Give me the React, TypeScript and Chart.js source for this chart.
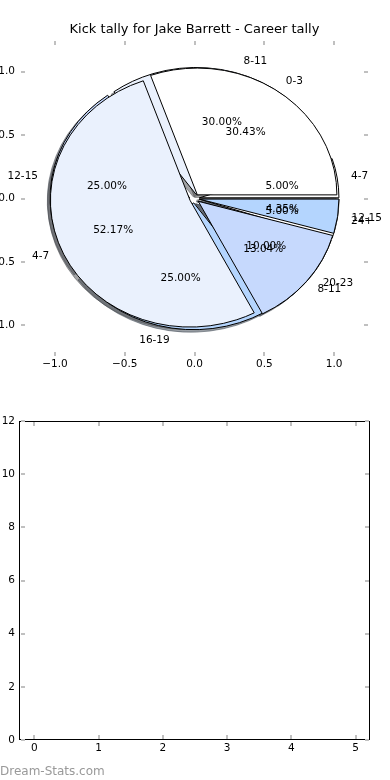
import { useEffect, useRef } from 'react';
import { Chart, registerables } from 'chart.js';

Chart.register(...registerables);

const FONT = "'DejaVu Sans', 'Liberation Sans', sans-serif";

const titleText = 'Kick tally for Jake Barrett - Career tally';
const watermarkText = 'Dream-Stats.com';

// Pie drawn first (underneath)
const pieALabels = ['4-7', '8-11', '12-15', '16-19', '20-23', '24+'];
const pieAValues = [1, 6, 5, 5, 2, 1];
const pieAColors = ['#ffffff', '#eaf1fd', '#c6d9fd', '#b4d5fe', '#9fc3fb', '#ffffff'];

// Pie drawn second (on top)
const pieBLabels = ['0-3', '4-7', '8-11', '12-15'];
const pieBValues = [7, 12, 3, 1];
const pieBColors = ['#ffffff', '#eaf1fd', '#c6d9fd', '#b4d5fe'];

const pieAxisTicks = [-1, -0.5, 0, 0.5, 1];
const barXTicks = [0, 1, 2, 3, 4, 5];
const barYTicks = [0, 2, 4, 6, 8, 10, 12];

const EXPLODE = 0.035;
const SHADOW = 0.02;
const PCT_DIST = 0.6;
const LABEL_DIST = 1.1;
const SMALL = 10.5;

type Wedge = {
  t1: number; t2: number; mid: number; cx: number; cy: number;
  color: string; label: string; pct: string;
};

function buildWedges(values: number[], labels: string[], colors: string[]): Wedge[] {
  const total = values.reduce((a, b) => a + b, 0);
  let start = 0;
  return values.map((v, i) => {
    const frac = v / total;
    const t1 = start * 2 * Math.PI;
    const t2 = (start + frac) * 2 * Math.PI;
    start += frac;
    const mid = (t1 + t2) / 2;
    return {
      t1, t2, mid,
      cx: EXPLODE * Math.cos(mid),
      cy: EXPLODE * Math.sin(mid),
      color: colors[i],
      label: labels[i],
      pct: (frac * 100).toFixed(2) + '%',
    };
  });
}

function hexRgb(h: string): number[] {
  const s = h.replace('#', '');
  return [0, 2, 4].map((i) => parseInt(s.slice(i, i + 2), 16));
}

const piePlugin = {
  id: 'pies',
  afterDraw(chart: any) {
    const ctx: CanvasRenderingContext2D = chart.ctx;
    const xs = chart.scales.x;
    const ys = chart.scales.y;
    const rx = xs.getPixelForValue(1) - xs.getPixelForValue(0);
    const ry = ys.getPixelForValue(0) - ys.getPixelForValue(1);
    const pies = [
      buildWedges(pieAValues, pieALabels, pieAColors),
      buildWedges(pieBValues, pieBLabels, pieBColors),
    ];
    const path = (w: Wedge, dx: number, dy: number) => {
      const px = xs.getPixelForValue(w.cx + dx);
      const py = ys.getPixelForValue(w.cy + dy);
      ctx.beginPath();
      ctx.moveTo(px, py);
      ctx.ellipse(px, py, rx, ry, 0, -w.t1, -w.t2, true);
      ctx.closePath();
    };
    ctx.save();
    pies.forEach((p) =>
      p.forEach((w) => {
        path(w, -SHADOW, -SHADOW);
        const [r, g, b] = hexRgb(w.color);
        const c = `rgba(${Math.round(r * 0.3)},${Math.round(g * 0.3)},${Math.round(b * 0.3)},0.5)`;
        ctx.fillStyle = c;
        ctx.fill();
        ctx.strokeStyle = c;
        ctx.lineWidth = 1;
        ctx.stroke();
      })
    );
    pies.forEach((p) =>
      p.forEach((w) => {
        path(w, 0, 0);
        ctx.fillStyle = w.color;
        ctx.fill();
        ctx.strokeStyle = '#000';
        ctx.lineWidth = 1;
        ctx.stroke();
      })
    );
    ctx.font = `${SMALL}px ${FONT}`;
    ctx.fillStyle = '#000';
    ctx.textBaseline = 'middle';
    pies.forEach((p) =>
      p.forEach((w) => {
        const c = Math.cos(w.mid);
        const s = Math.sin(w.mid);
        const lx = w.cx + LABEL_DIST * c;
        const ly = w.cy + LABEL_DIST * s;
        ctx.textAlign = lx > 0 ? 'left' : 'right';
        ctx.fillText(w.label, xs.getPixelForValue(lx), ys.getPixelForValue(ly));
        ctx.textAlign = 'center';
        ctx.fillText(
          w.pct,
          xs.getPixelForValue(w.cx + PCT_DIST * c),
          ys.getPixelForValue(w.cy + PCT_DIST * s)
        );
      })
    );
    ctx.restore();
  },
};

const tickMarkPlugin = {
  id: 'tickMarks',
  afterDraw(chart: any, _args: any, opts: any) {
    const ctx: CanvasRenderingContext2D = chart.ctx;
    const { left, right, top, bottom } = chart.chartArea;
    const xs = chart.scales.x;
    const ys = chart.scales.y;
    ctx.save();
    if (opts && opts.frame) {
      ctx.strokeStyle = '#000';
      ctx.lineWidth = 1;
      ctx.strokeRect(Math.round(left) - 0.5, Math.round(top) + 0.5, Math.round(right - left), Math.round(bottom - top) - 1);
    }
    ctx.fillStyle = '#c0c0c0';
    xs.ticks.forEach((t: any) => {
      const p = Math.round(xs.getPixelForValue(t.value));
      ctx.fillRect(p - 1, top + 1, 2, 4);
      ctx.fillRect(p - 1, bottom - 5, 2, 4);
    });
    ys.ticks.forEach((t: any) => {
      const p = Math.round(ys.getPixelForValue(t.value));
      ctx.fillRect(left + 1, p - 1, 4, 2);
      ctx.fillRect(right - 5, p - 1, 4, 2);
    });
    if (opts && opts.watermark) {
      ctx.font = `12px ${FONT}`;
      ctx.fillStyle = '#999999';
      ctx.textAlign = 'left';
      ctx.textBaseline = 'alphabetic';
      ctx.fillText(opts.watermark, 0, chart.height - 5.5);
    }
    ctx.restore();
  },
};

const fmtPie = (v: number) => (v < 0 ? '\u2212' : '') + Math.abs(v).toFixed(1);

export default function App() {
  const topRef = useRef<HTMLCanvasElement>(null);
  const botRef = useRef<HTMLCanvasElement>(null);

  useEffect(() => {
    const tickFont = { family: FONT, size: SMALL };
    const c1 = new Chart(topRef.current as HTMLCanvasElement, {
      type: 'scatter',
      data: { datasets: [] },
      plugins: [tickMarkPlugin, piePlugin],
      options: {
        animation: false,
        responsive: false,
        events: [],
        layout: { padding: { left: 0, right: 21, top: 0, bottom: 0 } },
        plugins: {
          legend: { display: false },
          tooltip: { enabled: false },
          title: {
            display: true,
            fullSize: false,
            text: titleText,
            color: '#000',
            font: { family: FONT, size: 13, weight: 'normal' },
            padding: { top: 22, bottom: 2.4 },
          },
          tickMarks: { frame: false },
        } as any,
        scales: {
          x: {
            type: 'linear',
            min: -1.25,
            max: 1.25,
            grid: { display: false, drawTicks: false },
            border: { display: false },
            afterBuildTicks: (s: any) => {
              s.ticks = pieAxisTicks.map((v) => ({ value: v }));
            },
            afterFit: (s: any) => {
              s.height = 23;
            },
            ticks: { color: '#000', font: tickFont, padding: 1, maxRotation: 0, callback: (v: any) => fmtPie(Number(v)) },
          },
          y: {
            type: 'linear',
            min: -1.25,
            max: 1.25,
            grid: { display: false, drawTicks: false },
            border: { display: false },
            afterBuildTicks: (s: any) => {
              s.ticks = pieAxisTicks.map((v) => ({ value: v }));
            },
            afterFit: (s: any) => {
              s.width = 20;
            },
            ticks: { color: '#000', font: tickFont, padding: 5, callback: (v: any) => fmtPie(Number(v)) },
          },
        },
      } as any,
    });

    const c2 = new Chart(botRef.current as HTMLCanvasElement, {
      type: 'scatter',
      data: { datasets: [] },
      plugins: [tickMarkPlugin],
      options: {
        animation: false,
        responsive: false,
        events: [],
        layout: { padding: { left: 0, right: 20, top: 21, bottom: 0 } },
        plugins: {
          legend: { display: false },
          tooltip: { enabled: false },
          title: { display: false },
          tickMarks: { frame: true, watermark: watermarkText },
        } as any,
        scales: {
          x: {
            type: 'linear',
            min: -0.225,
            max: 5.225,
            grid: { display: false, drawTicks: false },
            border: { display: false },
            afterBuildTicks: (s: any) => {
              s.ticks = barXTicks.map((v) => ({ value: v }));
            },
            afterFit: (s: any) => {
              s.height = 40;
            },
            ticks: { color: '#000', font: tickFont, padding: 1.5, maxRotation: 0, callback: (v: any) => String(v) },
          },
          y: {
            type: 'linear',
            min: 0,
            max: 12,
            grid: { display: false, drawTicks: false },
            border: { display: false },
            afterBuildTicks: (s: any) => {
              s.ticks = barYTicks.map((v) => ({ value: v }));
            },
            afterFit: (s: any) => {
              s.width = 20;
            },
            ticks: { color: '#000', font: tickFont, padding: 5, callback: (v: any) => String(v) },
          },
        },
      } as any,
    });

    return () => {
      c1.destroy();
      c2.destroy();
    };
  }, []);

  return (
    <div style={{ position: 'absolute', left: 0, top: 0, width: 390, height: 780, background: '#fff', overflow: 'hidden' }}>
      <canvas ref={topRef} width={390} height={380} style={{ position: 'absolute', left: 0, top: 0 }} />
      <canvas ref={botRef} width={390} height={380} style={{ position: 'absolute', left: 0, top: 400 }} />
    </div>
  );
}
